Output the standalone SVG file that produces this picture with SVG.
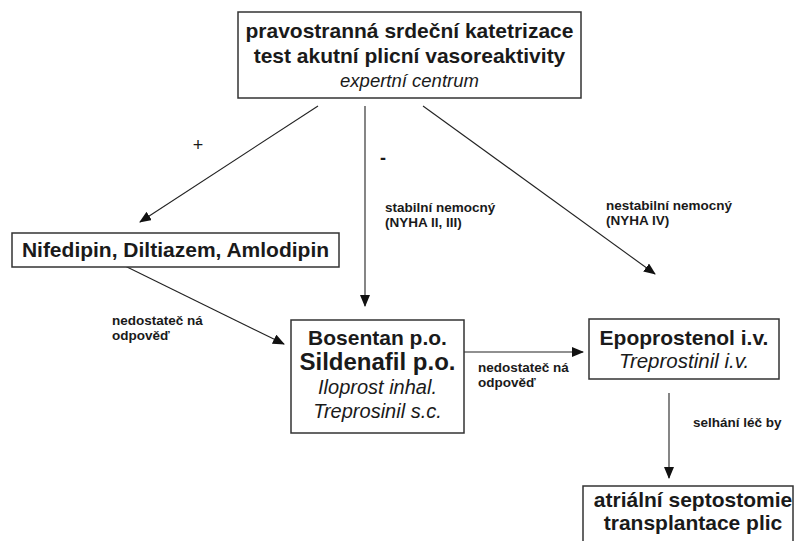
<svg xmlns="http://www.w3.org/2000/svg" width="795" height="541" viewBox="0 0 795 541">
<defs>
<style>
.box{fill:#fff;stroke:#333;stroke-width:1.5}
.t{font-family:"Liberation Sans",Arial,sans-serif;fill:#1a1a1a;text-anchor:middle}
.b{font-weight:bold}
.i{font-style:italic}
.lbl{font-family:"Liberation Sans",Arial,sans-serif;font-weight:bold;font-size:13.5px;fill:#1a1a1a}
.c{stroke:#222;stroke-width:1.1;fill:none;marker-end:url(#ah)}
</style>
<marker id="ah" markerUnits="userSpaceOnUse" markerWidth="12" markerHeight="10" refX="11" refY="5" orient="auto">
<path d="M0,0 L12,5 L0,10 Z" fill="#111"/>
</marker>
</defs>
<rect width="795" height="541" fill="#fff"/>
<g id="connectors">
<line class="c" x1="318" y1="106" x2="140" y2="222"/>
<line class="c" x1="365" y1="106" x2="365" y2="306"/>
<line class="c" x1="423" y1="106" x2="655" y2="274"/>
<line class="c" x1="125" y1="266" x2="284" y2="344"/>
<line class="c" x1="464" y1="352" x2="583" y2="352"/>
<line class="c" x1="669" y1="393" x2="669" y2="478"/>
<text class="t" x="198" y="151" font-size="18">+</text>
<text class="t b" x="383" y="164" font-size="18">-</text>
<text class="lbl" x="385" y="212">stabilní nemocný</text>
<text class="lbl" x="385" y="227">(NYHA II, III)</text>
<text class="lbl" x="606" y="210">nestabilní nemocný</text>
<text class="lbl" x="606" y="225">(NYHA IV)</text>
<text class="lbl" x="112" y="325">nedostateč ná</text>
<text class="lbl" x="112" y="340">odpověď</text>
<text class="lbl" x="478" y="372">nedostateč ná</text>
<text class="lbl" x="478" y="387">odpověď</text>
<text class="lbl" x="693" y="427">selhání léč by</text>
</g>
<g id="top">
<rect class="box" x="238" y="12" width="343" height="86"/>
<text class="t b" x="409.5" y="38" font-size="21">pravostranná srdeční katetrizace</text>
<text class="t b" x="409.5" y="63" font-size="21">test akutní plicní vasoreaktivity</text>
<text class="t i" x="409.5" y="87" font-size="18.5">expertní centrum</text>
</g>
<g id="ccb">
<rect class="box" x="12" y="233" width="327" height="34"/>
<text class="t b" x="175.5" y="257" font-size="21">Nifedipin, Diltiazem, Amlodipin</text>
</g>
<g id="oral">
<rect class="box" x="291" y="320" width="173" height="113"/>
<text class="t b" x="377.5" y="345" font-size="21">Bosentan p.o.</text>
<text class="t b" x="377.5" y="370" font-size="24">Sildenafil p.o.</text>
<text class="t i" x="377.5" y="394" font-size="20">Iloprost inhal.</text>
<text class="t i" x="377.5" y="418" font-size="20">Treprosinil s.c.</text>
</g>
<g id="iv">
<rect class="box" x="589" y="319" width="190" height="60"/>
<text class="t b" x="684" y="345" font-size="21">Epoprostenol i.v.</text>
<text class="t i" x="684" y="368" font-size="20.5">Treprostinil i.v.</text>
</g>
<g id="surgery">
<rect class="box" x="583" y="486" width="210" height="80"/>
<text class="t b" x="693" y="507" font-size="21">atriální septostomie</text>
<text class="t b" x="693" y="530" font-size="21">transplantace plic</text>
</g>
</svg>
